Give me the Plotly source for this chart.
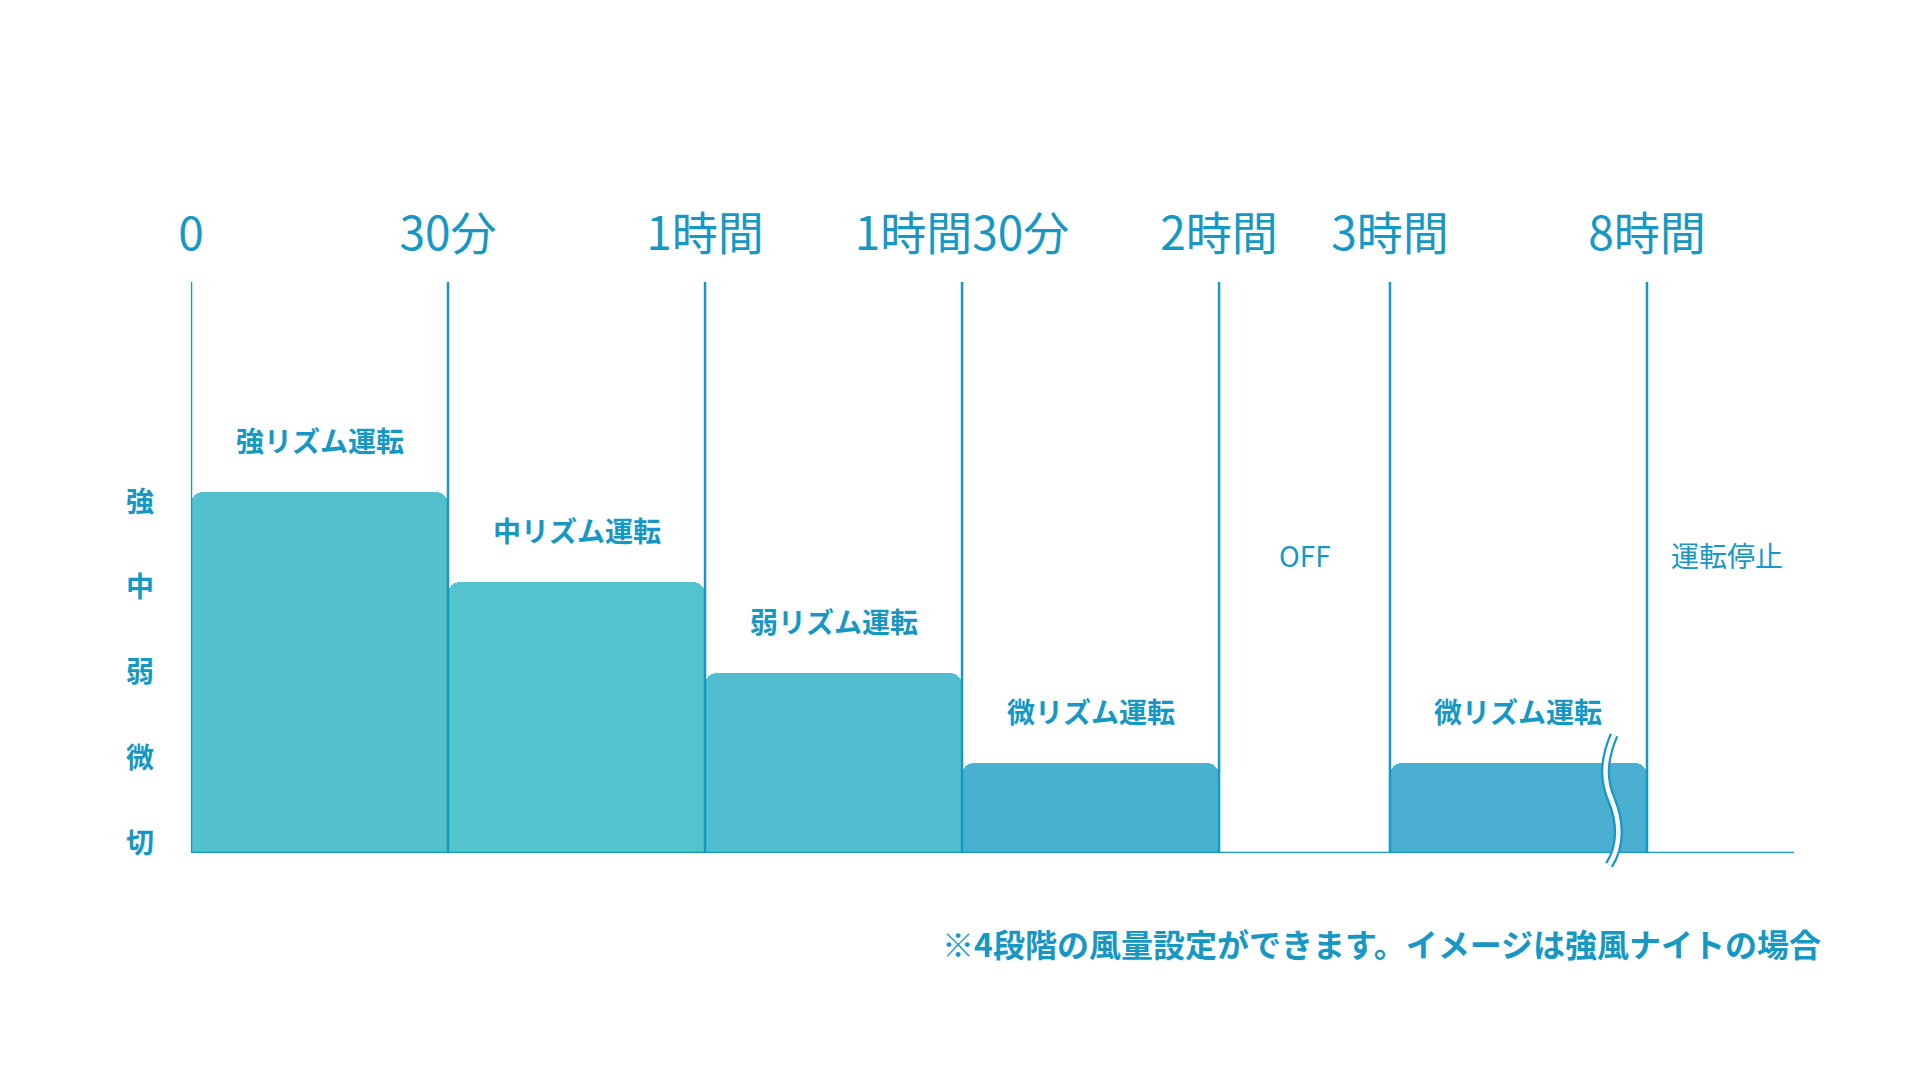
import numpy as np
import plotly.graph_objects as go

# ---------------- data ----------------
time_labels = ["0", "30分", "1時間", "1時間30分", "2時間", "3時間", "8時間"]
segment_modes = ["強リズム運転", "中リズム運転", "弱リズム運転", "微リズム運転", "OFF", "微リズム運転"]
segment_levels = [4, 3, 2, 1, 0, 1]
segment_spans = [1.0, 1.0, 1.0, 1.0, 0.665, 1.0]   # displayed width of each period (broken time axis)
level_labels = ["切", "微", "弱", "中", "強"]        # level 0 .. 4
after_label = "運転停止"
footnote = "※4段階の風量設定ができます。イメージは強風ナイトの場合"
bar_colors = ["#52c0cd", "#53c3cd", "#51becf", "#4ab2d1", "#4aafd0"]

# ---------------- style ----------------
BLUE = "#1798c4"
FONT = "Noto Sans CJK JP"

bounds = np.concatenate([[0], np.cumsum(segment_spans)])
centers = (bounds[:-1] + bounds[1:]) / 2
x_end = bounds[-1] + 0.572

fig = go.Figure()

# bars (only non-zero levels)
mask = [lv > 0 for lv in segment_levels]
fig.add_trace(go.Bar(
    x=[c for c, m in zip(centers, mask) if m],
    y=[lv for lv, m in zip(segment_levels, mask) if m],
    width=[w for w, m in zip(segment_spans, mask) if m],
    marker=dict(color=bar_colors, line=dict(width=0), cornerradius=12),
    hoverinfo="skip",
))

# invisible trace for the level-label axis
fig.add_trace(go.Scatter(
    x=[0] * len(level_labels), y=list(range(len(level_labels))),
    yaxis="y2", mode="markers", marker=dict(opacity=0), hoverinfo="skip", showlegend=False,
))

shapes = []
# vertical period lines
for b in bounds:
    shapes.append(dict(type="line", xref="x", yref="paper", x0=b, x1=b, y0=0, y1=1,
                       line=dict(color=BLUE, width=2.5), layer="above"))
# baseline
shapes.append(dict(type="line", xref="paper", yref="y", x0=0, x1=1, y0=0, y1=0,
                   line=dict(color=BLUE, width=2.5), layer="above"))
# break mark in the last period
brk_x = bounds[-1] - 0.136
brk_path = "M 2,118 C -9,92 -9,72 0,52 C 8,32 10,8 -3,-12"
for col, w in [(BLUE, 9), ("white", 4.5)]:
    shapes.append(dict(type="path", xref="x", yref="paper", xsizemode="pixel", ysizemode="pixel",
                       xanchor=brk_x, yanchor=0, path=brk_path,
                       line=dict(color=col, width=w), layer="above"))

annotations = []
for c, lv, name in zip(centers, segment_levels, segment_modes):
    if lv > 0:
        annotations.append(dict(x=c, y=lv, xref="x", yref="y", text=name, showarrow=False,
                                yshift=52, font=dict(family=FONT, size=28, color=BLUE, weight="bold")))
    else:
        annotations.append(dict(x=c, y=3.3, xref="x", yref="y", text=name, showarrow=False,
                                font=dict(family=FONT, size=28, color=BLUE)))
annotations.append(dict(x=bounds[-1] + 0.31, y=3.3, xref="x", yref="y", text=after_label,
                        showarrow=False, font=dict(family=FONT, size=28, color=BLUE)))
annotations.append(dict(x=1.018, y=-0.158, xref="paper", yref="paper", text=footnote,
                        showarrow=False, xanchor="right", yanchor="middle",
                        font=dict(family=FONT, size=32, color=BLUE, weight="bold")))

fig.update_layout(
    width=1921, height=1075, autosize=False,
    margin=dict(l=191, r=127, t=282, b=222),
    paper_bgcolor="white", plot_bgcolor="white",
    showlegend=False, bargap=0,
    shapes=shapes, annotations=annotations,
    xaxis=dict(range=[0, x_end], side="top", tickvals=bounds, ticktext=time_labels,
               showgrid=False, zeroline=False, showline=False, ticks="",
               ticklabelstandoff=22,
               tickfont=dict(family=FONT, size=46, color=BLUE), fixedrange=True),
    yaxis=dict(range=[0, 6.327], visible=False, fixedrange=True),
    yaxis2=dict(range=[-0.117, 6.58], overlaying="y", side="left",
                tickvals=list(range(len(level_labels))), ticktext=level_labels,
                showgrid=False, zeroline=False, showline=False, ticks="",
                ticklabelstandoff=36,
                tickfont=dict(family=FONT, size=28, color=BLUE, weight="bold"), fixedrange=True),
    hovermode=False,
)

fig.write_html("out.html", config={"displayModeBar": False},
               post_script="document.body.style.margin='0';document.body.style.overflow='hidden';")
